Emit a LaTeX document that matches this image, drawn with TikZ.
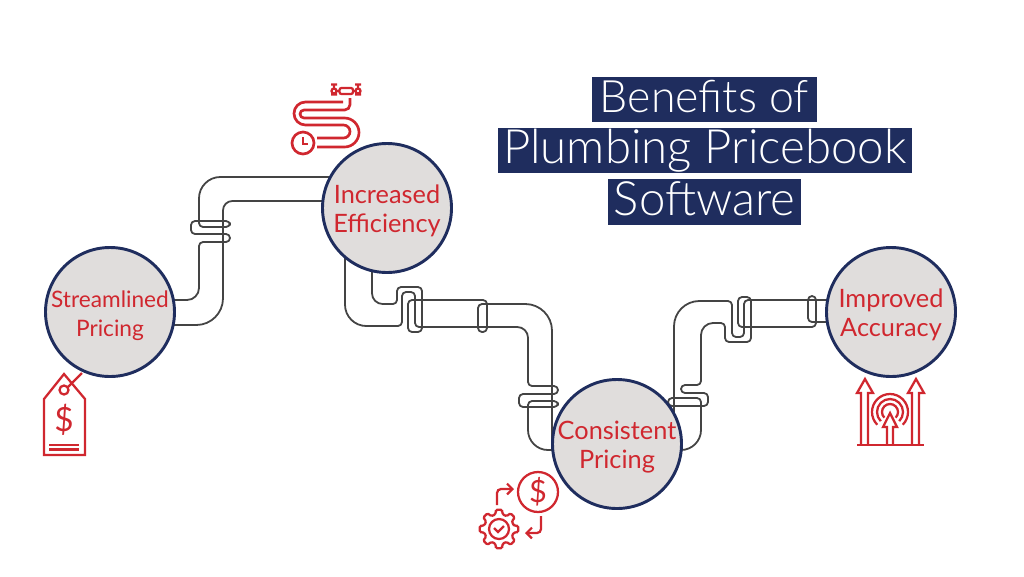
\documentclass[tikz,border=0pt]{standalone}
\usepackage{fontspec}
\setmainfont{Lato}[UprightFont=* Light]
\newfontfamily\discfont{Lato}
\usetikzlibrary{backgrounds,arrows.meta}
\definecolor{navy}{HTML}{1F2D5E}
\definecolor{plumbred}{HTML}{D0272F}
\definecolor{pipegrey}{HTML}{444444}
\definecolor{discgrey}{HTML}{E0DDDC}
\newcommand{\disclines}[2]{\rule{0pt}{18.5pt}#1\\#2}
\tikzset{
  disc/.style={circle,draw=navy,line width=2.2pt,fill=discgrey,minimum size=129*0.75pt,inner sep=-10pt,
    text=plumbred,align=center,font=\discfont\fontsize{19pt}{21.8pt}\selectfont},
  titlebar/.style={fill=navy,text=white,inner sep=0pt,minimum height=34pt,text height=26pt,text depth=6pt,
    font=\fontsize{35.5pt}{40pt}\selectfont},
  pipe/.style={draw=pipegrey,line width=1.35pt,line join=round},
  iconline/.style={draw=plumbred,line width=1.7pt},
  drainline/.style={draw=plumbred,line width=2pt},
  dollar/.style={text=plumbred,inner sep=0pt}
}
\begin{document}
\begin{tikzpicture}[x=0.75pt,y=-0.75pt]
\useasboundingbox (0,0) rectangle (1024,576);

% title
\node[titlebar,minimum width=225*0.75pt,font=\fontsize{33.5pt}{40pt}\selectfont] (bartop) at (704.5,99.5) {Benefits of};
\node[titlebar,minimum width=414*0.75pt] (barmid) at (705,150.5) {Plumbing Pricebook};
\node[titlebar,minimum width=193*0.75pt] (barlow) at (704.5,202) {Software};

% stations
\node[disc,font=\discfont\fontsize{17pt}{21.8pt}\selectfont] (streamlined) at (110,312) {\disclines{Streamlined}{Pricing}};
\node[disc] (efficiency) at (387,208) {\disclines{Increased}{Efficiency}};
\node[disc] (consistent) at (617,444) {\disclines{Consistent}{Pricing}};
\node[disc] (accuracy) at (891,312) {\disclines{Improved}{Accuracy}};

% pipes
\begin{scope}[on background layer]
\draw[pipe,rounded corners=9pt] (streamlined.center |- 0,300) -- (199,300) [rounded corners=3pt] -- (199,242) -- (230,242) -- (230,234) -- (191,234) -- (191,221) -- (230,221) -- (230,227) -- (199,227) [rounded corners=16pt] -- (199,177) -- (efficiency.center |- 0,177);
\draw[pipe,rounded corners=20pt] (streamlined.center |- 0,325) -- (223,325) [rounded corners=7pt] -- (223,201) -- (efficiency.center |- 0,201);

\draw[pipe,rounded corners=16pt] (345,0 |- efficiency.center) -- (345,326) [rounded corners=3pt] -- (402,326) -- (402,292) -- (415,292) -- (415,327) [rounded corners=8pt] -- (528,327) [rounded corners=3pt] -- (528,386) -- (558,386) -- (558,394) -- (519,394) -- (519,407) -- (558,407) -- (558,401) -- (528,401) [rounded corners=15pt] -- (528,450) -- (consistent.center |- 0,450);
\draw[pipe,rounded corners=8pt] (372,0 |- efficiency.center) -- (372,304) [rounded corners=3pt] -- (397,304) -- (397,287) -- (422,287) -- (422,332) -- (408,332) -- (408,300) -- (487,300) -- (487,332) -- (478,332) -- (478,304) [rounded corners=20pt] -- (552,304) -- (552,0 |- consistent.center);

\draw[pipe,rounded corners=15pt] (consistent.center |- 0,450) -- (701,450) [rounded corners=3pt] -- (701,398) -- (668,398) -- (668,406) -- (708,406) -- (708,393) -- (681,393) -- (681,385) -- (701,385) [rounded corners=9pt] -- (701,323) [rounded corners=3pt] -- (725,323) -- (725,342) -- (751,342) -- (751,297) -- (738,297) -- (738,327) -- (816,327) -- (816,296) -- (808,296) -- (808,322) -- (accuracy.center |- 0,322);
\draw[pipe,rounded corners=19pt] (674,0 |- consistent.center) -- (674,301) [rounded corners=3pt] -- (732,301) -- (732,337) -- (744,337) -- (744,300) -- (accuracy.center |- 0,300);
\end{scope}

% price tag
\draw[iconline,line join=miter] (44,399) -- (64,374) -- (85,399) -- (85,455) -- (44,455) -- cycle;
\draw[iconline] (64,390) circle (4.5);
\draw[iconline] (67,388) -- (82,373);
\draw[iconline] (49,445) -- (79,445);
\draw[iconline] (49,449.5) -- (79,449.5);
\node[dollar,font=\discfont\fontsize{25pt}{25pt}\selectfont] (tagsign) at (64,420) {\$};

% drain with clock
\draw[drainline,rounded corners=8.6pt] (343,102) -- (294,102) -- (294,125) [rounded corners=4.9pt] -- (350,125) -- (350,138) -- (317,138);
\draw[drainline,rounded corners=4pt] (350,98) -- (350,110) [rounded corners=3pt] -- (300,110) -- (300,118) [rounded corners=10.9pt] -- (359,118) -- (359,147) -- (317,147);
\draw[drainline] (303,143) circle (11);
\draw[drainline] (303,137) -- (303,144) -- (308,144);
\draw[iconline,rounded corners=1.5pt] (339.5,88) rectangle (353,94);
\draw[iconline] (331,84.5) -- (337,84.5) (334,84.5) -- (334,88) (331,94.5) -- (337,94.5) (336.5,91) -- (339.5,91) (334,91) circle (2.5);
\draw[iconline] (355,84.5) -- (361,84.5) (358,84.5) -- (358,88) (355,94.5) -- (361,94.5) (353,91) -- (355.5,91) (358,91) circle (2.5);

% coin and gear
\draw[iconline] (538,492) circle (20);
\node[dollar,font=\discfont\fontsize{23pt}{23pt}\selectfont] (coinsign) at (538,492) {\$};
\draw[iconline,rounded corners=3pt,-{Straight Barb[length=4pt,width=8pt]}] (497,505) -- (497,489) -- (514,489);
\draw[iconline,rounded corners=3pt,-{Straight Barb[length=4pt,width=8pt]}] (541,516) -- (541,533) -- (525,533);
\draw[iconline,rounded corners=1pt,shift={(499,529)}] (-22.5:15) foreach \a in {0,45,...,315} {-- (\a-14:15) -- (\a-9:19.5) -- (\a+9:19.5) -- (\a+14:15)} -- cycle;
\draw[iconline] (499,529) circle (10);
\draw[iconline] (494,528) -- (498,532) -- (504,526);

% target and arrows
\draw[iconline] (857,445) -- (924,445);
\draw[iconline,line join=miter] (861,445) -- (861,393) -- (857,393) -- (865,379) -- (873,393) -- (868,393) -- (868,445);
\draw[iconline,line join=miter] (912,445) -- (912,393) -- (908,393) -- (916,379) -- (924,393) -- (919,393) -- (919,445);
\draw[iconline,line join=miter] (887,445) -- (887,427) -- (883,427) -- (890,413) -- (897,427) -- (893,427) -- (893,445);
\foreach \r in {8,13,18}
  \draw[iconline] (890,412) ++(135:\r) arc (135:405:\r);
\end{tikzpicture}
\end{document}
